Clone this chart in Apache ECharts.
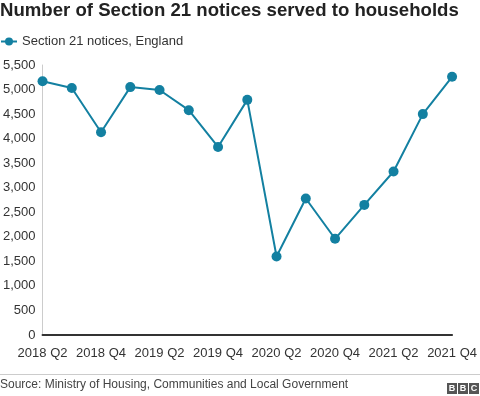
<!DOCTYPE html>
<html>
<head>
<meta charset="utf-8">
<script src="https://cdn.jsdelivr.net/npm/echarts@6/dist/echarts.min.js"></script>
<style>
  html, body { margin: 0; padding: 0; background: #fff; }
  #chart { width: 480px; height: 396px; }
</style>
</head>
<body>
<div id="chart"></div>
<script>
// quarters shown on the x axis
const quarters = [
  '2018 Q2', '2018 Q3', '2018 Q4', '2019 Q1', '2019 Q2', '2019 Q3', '2019 Q4',
  '2020 Q1', '2020 Q2', '2020 Q3', '2020 Q4', '2021 Q1', '2021 Q2', '2021 Q3', '2021 Q4'
];

// Section 21 notices, England
const notices = [5170, 5030, 4130, 5050, 4990, 4580, 3830, 4790, 1600, 2780, 1960, 2650, 3330, 4500, 5260];

const seriesName = 'Section 21 notices, England';
const titleText = 'Number of Section 21 notices served to households';
const sourceText = 'Source: Ministry of Housing, Communities and Local Government';

const teal = '#1380A1';
const font = 'Liberation Sans, Arial, Helvetica, sans-serif';

const chart = echarts.init(document.getElementById('chart'));

const option = {
  animation: false,
  textStyle: { fontFamily: font },
  title: {
    text: titleText,
    left: 0,
    top: 1,
    padding: 0,
    textStyle: { fontSize: 18.6, fontWeight: 'bold', color: '#222', fontFamily: font }
  },
  legend: {
    data: [seriesName],
    left: 0,
    top: 35,
    padding: 0,
    itemWidth: 16,
    itemHeight: 10,
    itemGap: 4,
    textStyle: { fontSize: 13, color: '#333', fontFamily: font }
  },
  grid: {
    left: 41,
    right: 24,
    top: 65,
    bottom: 61
  },
  xAxis: {
    type: 'category',
    data: quarters,
    boundaryGap: false,
    axisLine: { lineStyle: { color: '#333', width: 2 } },
    axisTick: { show: false },
    axisLabel: {
      interval: 1,
      fontSize: 13,
      color: '#333',
      margin: 12,
      fontFamily: font
    }
  },
  yAxis: {
    type: 'value',
    min: 0,
    max: 5500,
    interval: 500,
    axisLine: { show: true, lineStyle: { color: '#ccc', width: 1 } },
    axisTick: { show: false },
    splitLine: { show: false },
    axisLabel: {
      fontSize: 13,
      color: '#333',
      margin: 7,
      fontFamily: font,
      formatter: v => v.toLocaleString('en-GB')
    }
  },
  series: [{
    name: seriesName,
    type: 'line',
    data: notices,
    symbol: 'circle',
    symbolSize: 10,
    lineStyle: { color: teal, width: 2 },
    itemStyle: { color: teal }
  }],
  graphic: [
    // footer rule
    {
      type: 'rect',
      shape: { x: 0, y: 374, width: 480, height: 1 },
      style: { fill: '#ccc' }
    },
    {
      type: 'text',
      left: 0,
      top: 379,
      style: { text: sourceText, font: '12px ' + font, fill: '#444' }
    },
    // BBC blocks
    ...['B', 'B', 'C'].map((ch, i) => ({
      type: 'group',
      left: 447 + i * 11,
      top: 383,
      children: [
        { type: 'rect', shape: { x: 0, y: 0, width: 10, height: 11 }, style: { fill: '#555' } },
        { type: 'text', style: { text: ch, x: 5, y: 5.5, align: 'center', verticalAlign: 'middle', font: 'bold 9px ' + font, fill: '#fff' } }
      ]
    }))
  ]
};

chart.setOption(option);
</script>
</body>
</html>
